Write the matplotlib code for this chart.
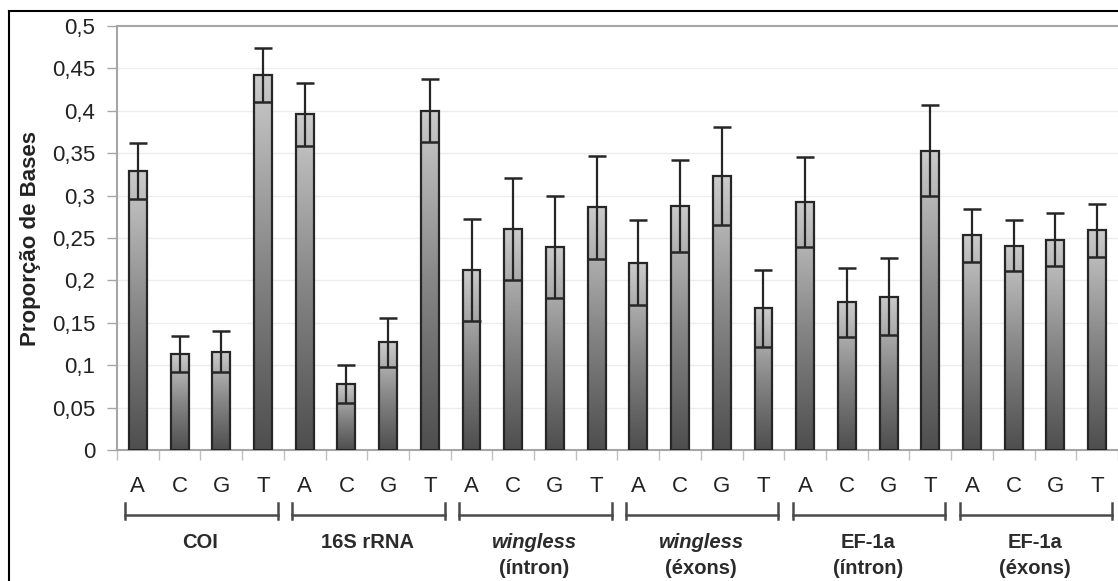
import numpy as np
import matplotlib
matplotlib.use("Agg")
import matplotlib.pyplot as plt
from matplotlib.lines import Line2D
from matplotlib.colors import LinearSegmentedColormap
import matplotlib.transforms as mtransforms

plt.rcParams['font.family'] = ['Liberation Sans', 'DejaVu Sans']

# ---- data ----
bases = ["A", "C", "G", "T"]
groups = ["COI", "16S rRNA", "wingless\n(íntron)", "wingless\n(éxons)", "EF-1a\n(íntron)", "EF-1a\n(éxons)"]
group_italic = [False, False, True, True, False, False]

values = [0.329, 0.113, 0.116, 0.442,
          0.396, 0.078, 0.127, 0.400,
          0.212, 0.261, 0.239, 0.286,
          0.221, 0.288, 0.323, 0.167,
          0.292, 0.174, 0.181, 0.353,
          0.253, 0.241, 0.248, 0.259]
errors = [0.033, 0.021, 0.024, 0.032,
          0.037, 0.022, 0.029, 0.037,
          0.060, 0.060, 0.060, 0.061,
          0.050, 0.054, 0.058, 0.045,
          0.053, 0.041, 0.045, 0.054,
          0.031, 0.030, 0.031, 0.031]
yticks = [0, 0.05, 0.1, 0.15, 0.2, 0.25, 0.3, 0.35, 0.4, 0.45, 0.5]
ytick_labels = ["0", "0,05", "0,1", "0,15", "0,2", "0,25", "0,3", "0,35", "0,4", "0,45", "0,5"]

W, H = 1118, 581
fig = plt.figure(figsize=(W / 100, H / 100), dpi=100)
ax = fig.add_axes([117 / W, 1 - 450 / H, (W - 117) / W, (450 - 26) / H])

n = len(values)
x = np.arange(n)
bw = 0.43

cmap = LinearSegmentedColormap.from_list("g", ["#4e4e4e", "#878787", "#cbcbcb"])
grad = np.linspace(0, 1, 256).reshape(-1, 1)
for xi, v in zip(x, values):
    ax.imshow(grad, cmap=cmap, origin="lower", aspect="auto",
              extent=[xi - bw / 2, xi + bw / 2, 0, v], zorder=2, interpolation="bilinear")
ax.bar(x, values, width=bw, facecolor="none", edgecolor="#262626", linewidth=1.6, zorder=3)
ax.errorbar(x, values, yerr=errors, fmt="none", ecolor="#262626", elinewidth=1.6,
            capsize=6.2, capthick=1.8, zorder=4)
ax.set_xlim(-0.5, n - 0.5)
ax.set_ylim(0, 0.5)

# grid
for yt in yticks[1:-1]:
    ax.axhline(yt, color="#ececec", linewidth=1.0, zorder=0)

# spines
for s in ["left", "top", "bottom"]:
    ax.spines[s].set_color("#a6a6a6")
    ax.spines[s].set_linewidth(1.5)
ax.spines["right"].set_visible(False)

ax.set_yticks(yticks)
ax.set_yticklabels(ytick_labels, fontsize=16, color="#222222")
ax.tick_params(axis="y", length=7, width=1, color="#a6a6a6", pad=8.5)
ax.set_xticks(np.arange(-0.5, n, 1.0))
ax.set_xticklabels([])
ax.tick_params(axis="x", length=7, width=1, color="#c0c0c0")

ax.set_ylabel("Proporção de Bases", fontsize=16, fontweight="bold", color="#222222")
ax.yaxis.set_label_coords((41 - 117) / (W - 117), 0.5)

trans = mtransforms.blended_transform_factory(ax.transData, ax.transAxes)
ph = 424.0  # axes height in px

def yfrac(py):
    return (450 - py) / ph

for i in range(n):
    ax.text(x[i], yfrac(487), bases[i % 4], transform=trans, ha="center", va="center",
            fontsize=16, color="#222222")

for g, name in enumerate(groups):
    x0 = 4 * g - 0.30
    x1 = 4 * g + 3.36
    yl = yfrac(515)
    ax.add_line(Line2D([x0, x1], [yl, yl], transform=trans, color="#4a4a4a", lw=1.8, clip_on=False))
    for xe in (x0, x1):
        ax.add_line(Line2D([xe, xe], [yfrac(503), yfrac(519)], transform=trans,
                           color="#4a4a4a", lw=1.8, clip_on=False))
    lines = name.split("\n")
    cx = 4 * g + 1.5
    ax.text(cx, yfrac(543), lines[0], transform=trans, ha="center", va="center",
            fontsize=14.5, fontweight="bold", color="#2b2b2b",
            style="italic" if group_italic[g] else "normal")
    if len(lines) > 1:
        ax.text(cx, yfrac(569), lines[1], transform=trans, ha="center", va="center",
                fontsize=14.5, fontweight="bold", color="#2b2b2b")

# outer frame
fig.add_artist(Line2D([8.5 / W, 8.5 / W], [0, 1 - 11 / H], transform=fig.transFigure, color="black", lw=1.5))
fig.add_artist(Line2D([8.5 / W, 1], [1 - 11 / H, 1 - 11 / H], transform=fig.transFigure, color="black", lw=1.5))

fig.savefig("out.png", dpi=100)
